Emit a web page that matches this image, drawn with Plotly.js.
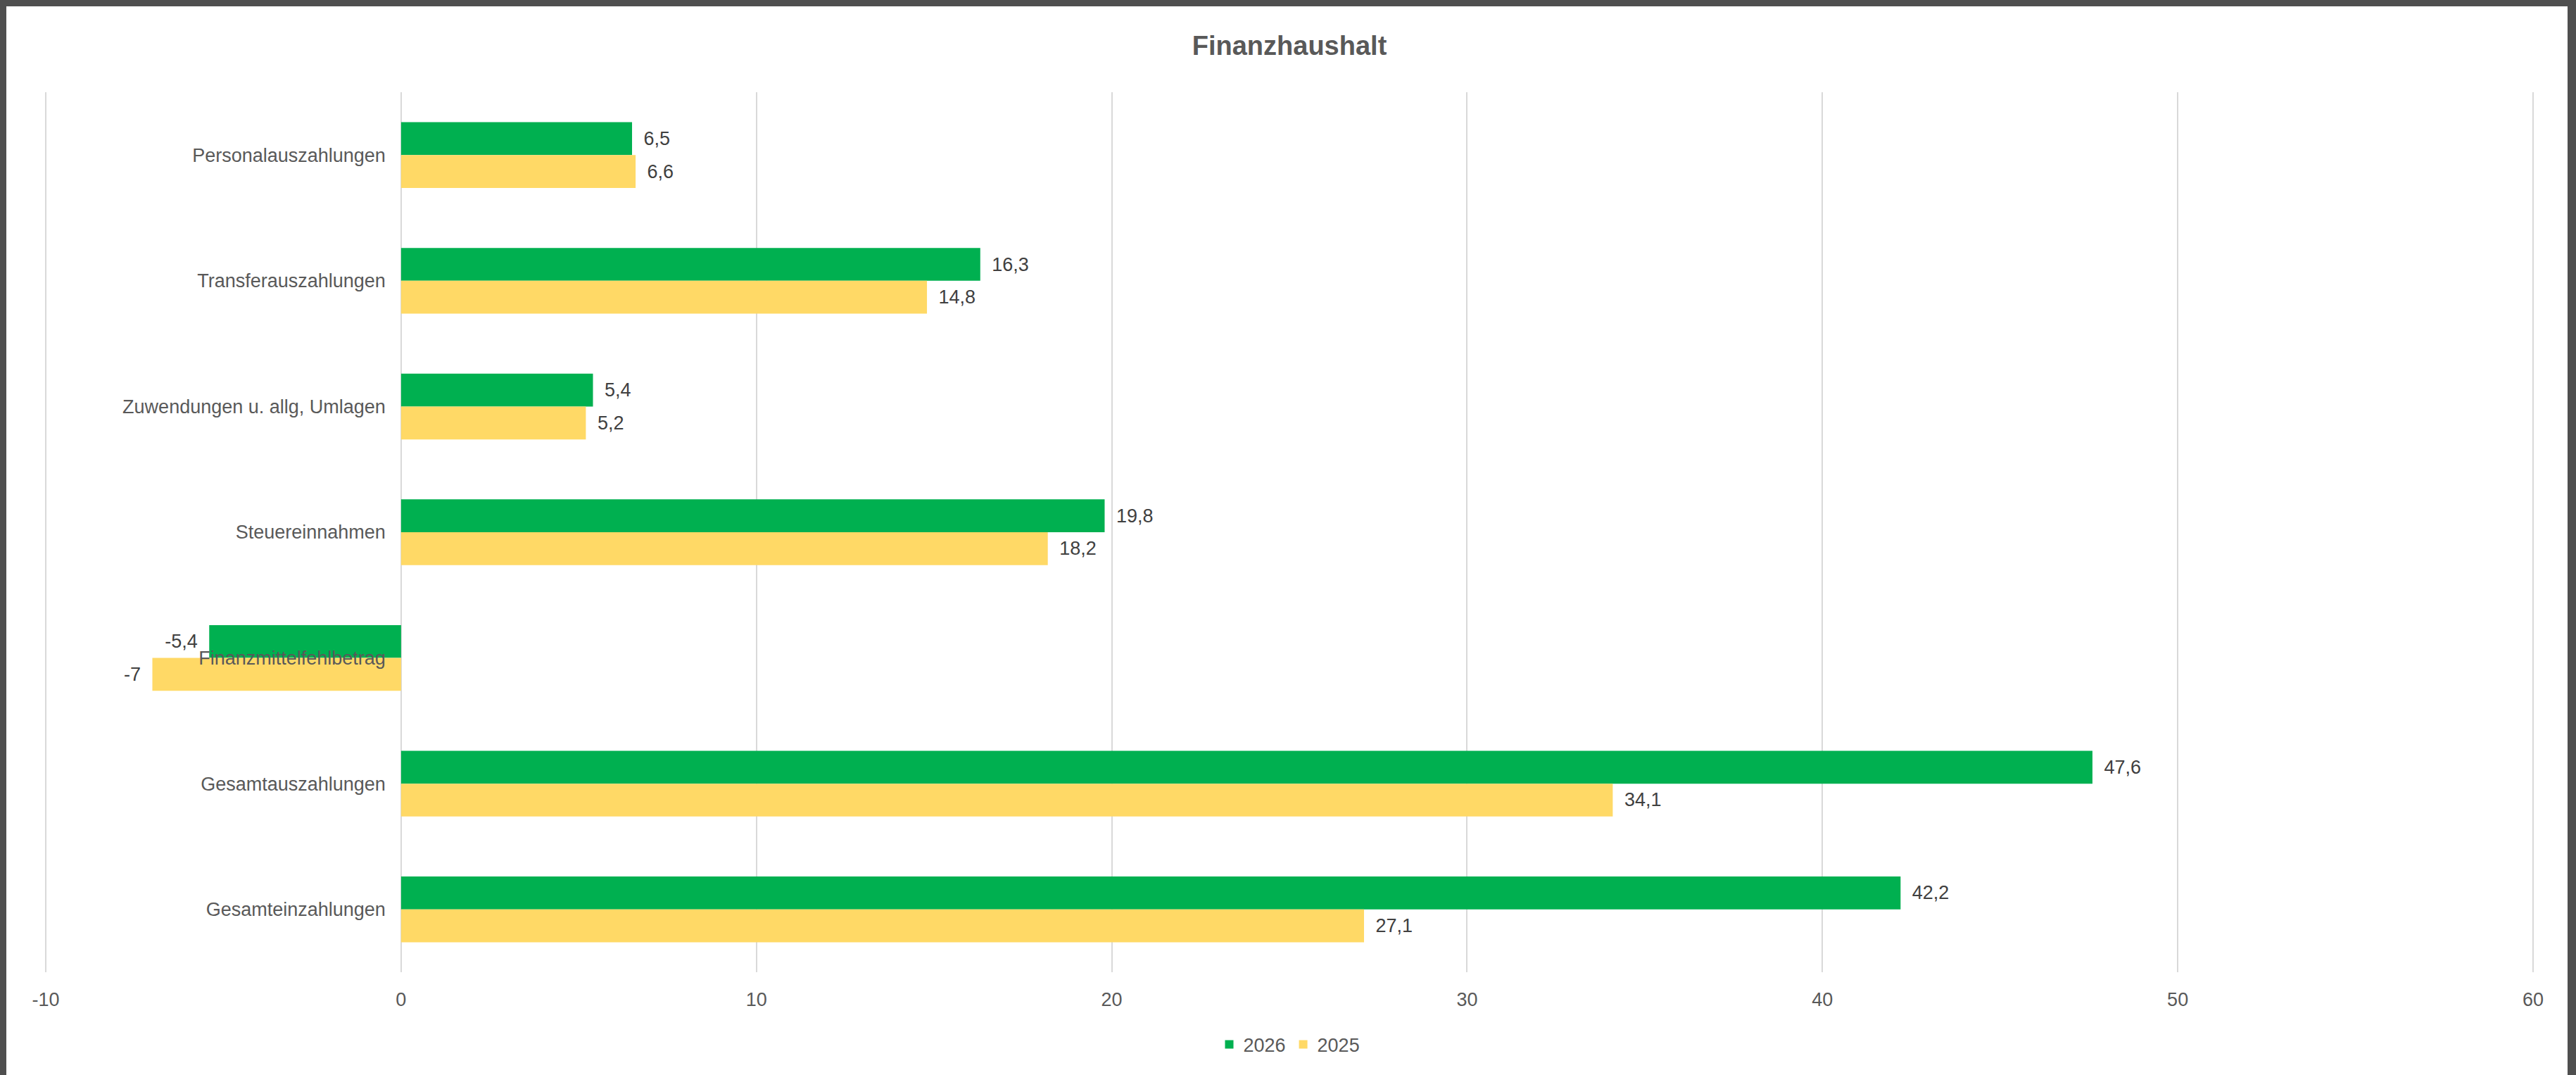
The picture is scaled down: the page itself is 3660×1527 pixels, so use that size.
<!DOCTYPE html>
<html>
<head>
<meta charset="utf-8">
<script src="https://cdn.plot.ly/plotly-3.0.1.min.js"></script>
<style>
  html, body { margin:0; padding:0; background:#4f4f4f; width:3660px; height:1527px; overflow:hidden; }
  #chart { position:absolute; left:9px; top:9px; width:3639px; height:1518px; background:#fff; }
</style>
</head>
<body>
<div id="chart"></div>
<script>
const categories = [
  "Personalauszahlungen",
  "Transferauszahlungen",
  "Zuwendungen u. allg, Umlagen",
  "Steuereinnahmen",
  "Finanzmittelfehlbetrag",
  "Gesamtauszahlungen",
  "Gesamteinzahlungen"
];
const values2026 = [6.5, 16.3, 5.4, 19.8, -5.4, 47.6, 42.2];
const values2025 = [6.6, 14.8, 5.2, 18.2, -7, 34.1, 27.1];
const xTicks = [-10, 0, 10, 20, 30, 40, 50, 60];

const fmt = v => {
  const s = String(v).replace('.', ',');
  return v >= 0 ? '\u2002' + s : s + '\u2002';
};

const FONT = "'Liberation Sans Narrow', 'Liberation Sans', Arial, sans-serif";
const labelFont = {family: FONT, size: 27, color: '#404040'};

const traces = [
  {
    type: 'bar', orientation: 'h', name: '2026',
    y: categories, x: values2026,
    text: values2026.map(fmt), textposition: 'outside', cliponaxis: false,
    constraintext: 'none', textfont: labelFont,
    marker: {color: '#00B050'}, hoverinfo: 'none'
  },
  {
    type: 'bar', orientation: 'h', name: '2025',
    y: categories, x: values2025,
    text: values2025.map(fmt), textposition: 'outside', cliponaxis: false,
    constraintext: 'none', textfont: labelFont,
    marker: {color: '#FFD966'}, hoverinfo: 'none'
  }
];

const pad = 0.04;
const layout = {
  width: 3639, height: 1518,
  paper_bgcolor: '#ffffff', plot_bgcolor: '#ffffff',
  margin: {l: 54, r: 47, t: 122, b: 146},
  barmode: 'group', bargap: 0.477, bargroupgap: 0,
  title: {
    text: '<b>Finanzhaushalt</b>',
    font: {family: FONT, size: 38, color: '#595959'},
    x: 0.5, xanchor: 'center', xref: 'paper',
    y: 1 - 56/1518, yref: 'container', yanchor: 'middle'
  },
  xaxis: {
    range: [xTicks[0] - pad, xTicks[xTicks.length - 1] + pad],
    tickvals: xTicks, ticktext: xTicks.map(String),
    showgrid: true, gridcolor: '#d9d9d9', gridwidth: 2,
    zeroline: true, zerolinecolor: '#d9d9d9', zerolinewidth: 2,
    showline: false, ticks: '', ticklabelstandoff: 20,
    tickfont: {family: FONT, size: 27, color: '#595959'},
    fixedrange: true
  },
  yaxis: {
    type: 'category', range: [6.5, -0.5],
    anchor: 'free', position: (0 - (xTicks[0] - pad)) / ((xTicks[xTicks.length - 1] + pad) - (xTicks[0] - pad)),
    showgrid: false, zeroline: false, showline: false, ticks: '',
    ticklabelstandoff: 22,
    tickfont: {family: FONT, size: 27, color: '#595959'},
    fixedrange: true
  },
  showlegend: true,
  legend: {
    orientation: 'h', x: 0.5, xanchor: 'center', y: -0.0824, yanchor: 'middle',
    font: {family: FONT, size: 27, color: '#595959'},
    itemwidth: 30, traceorder: 'normal'
  }
};

Plotly.newPlot('chart', traces, layout, {displayModeBar: false, staticPlot: true});
</script>
</body>
</html>
